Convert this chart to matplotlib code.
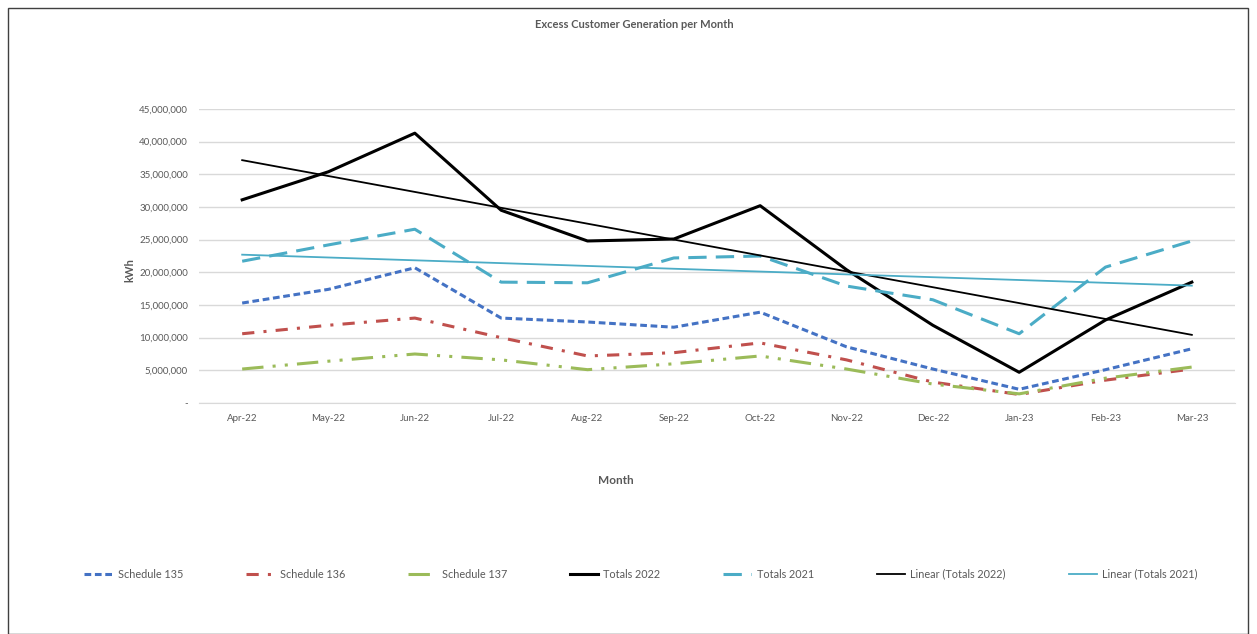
import numpy as np
import matplotlib
matplotlib.use("Agg")
from matplotlib import pyplot as plt
from matplotlib.ticker import FuncFormatter
from matplotlib.patches import Rectangle

months = ["Apr-22", "May-22", "Jun-22", "Jul-22", "Aug-22", "Sep-22",
          "Oct-22", "Nov-22", "Dec-22", "Jan-23", "Feb-23", "Mar-23"]
schedule_135 = [15.3, 17.4, 20.7, 13.0, 12.4, 11.6, 13.9, 8.6, 5.2, 2.1, 5.1, 8.3]
schedule_136 = [10.6, 11.9, 13.0, 10.0, 7.2, 7.7, 9.2, 6.6, 3.2, 1.3, 3.5, 5.2]
schedule_137 = [5.2, 6.4, 7.5, 6.6, 5.1, 6.0, 7.2, 5.2, 2.9, 1.4, 3.8, 5.5]
totals_2022 = [31.1, 35.4, 41.3, 29.5, 24.8, 25.1, 30.2, 20.4, 11.9, 4.7, 12.7, 18.5]
totals_2021 = [21.7, 24.2, 26.6, 18.5, 18.4, 22.2, 22.5, 17.9, 15.8, 10.6, 20.8, 24.8]


def main():
    plt.rcParams['font.family'] = ['Lato', 'DejaVu Sans']
    x = np.arange(len(months))
    scale = 1e6
    W, H = 1257, 634

    fig = plt.figure(figsize=(12.57, 6.34), dpi=100)
    ax = fig.add_axes([199 / W, 1 - 403 / H, (1235 - 199) / W, 294 / H])

    ax.plot(x, np.array(schedule_135) * scale, color="#4472C4", lw=2.2,
            dashes=(2.2, 1.2), label="Schedule 135")
    ax.plot(x, np.array(schedule_136) * scale, color="#C0504D", lw=2.2,
            dashes=(4, 3, 1, 3), label="Schedule 136")
    ax.plot(x, np.array(schedule_137) * scale, color="#9BBB59", lw=2.2,
            dashes=(7, 3, 1, 3, 1, 3), label="Schedule 137")
    ax.plot(x, np.array(totals_2022) * scale, color="black", lw=2.2,
            label="Totals 2022")
    ax.plot(x, np.array(totals_2021) * scale, color="#4BACC6", lw=2.2,
            dashes=(6, 3), label="Totals 2021")

    # linear trendlines like Excel
    p22 = np.polyfit(x, np.array(totals_2022) * scale, 1)
    p21 = np.polyfit(x, np.array(totals_2021) * scale, 1)
    ax.plot(x, np.polyval(p22, x), color="black", lw=1.3, label="Linear (Totals 2022)")
    ax.plot(x, np.polyval(p21, x), color="#4BACC6", lw=1.3, label="Linear (Totals 2021)")

    ax.set_xlim(-0.5, len(months) - 0.5)
    ax.set_ylim(0, 45e6)
    ax.set_yticks(np.arange(0, 45e6 + 1, 5e6))
    ax.yaxis.set_major_formatter(FuncFormatter(lambda v, p: "-" if v == 0 else f"{v:,.0f}"))
    ax.set_xticks(x)
    ax.set_xticklabels(months)
    ax.tick_params(axis="both", length=0, labelsize=7, colors="#595959", pad=8)
    ax.grid(axis="y", color="#D9D9D9", lw=1)
    ax.set_axisbelow(True)
    for s in ["top", "right", "left"]:
        ax.spines[s].set_visible(False)
    ax.spines["bottom"].set_color("#D9D9D9")

    fig.text(130 / W, 1 - 270 / H, "kWh", rotation=90, ha="center", va="center",
             fontsize=8, fontweight="bold", color="#595959")
    fig.text(616 / W, 1 - 480 / H, "Month", ha="center", va="center",
             fontsize=8.5, fontweight="bold", color="#595959")
    fig.text(634 / W, 1 - 25 / H, "Excess Customer Generation per Month", ha="center",
             va="center", fontsize=8, fontweight="bold", color="#595959")

    fig.legend(loc="center", bbox_to_anchor=(641 / W, 1 - 574 / H), ncol=7, frameon=False,
               fontsize=7.8, handlelength=2.6, columnspacing=5.8, handletextpad=0.5,
               labelcolor="#595959")

    fig.patches.append(Rectangle((8 / W, 0), 1240 / W, 1 - 8 / H, transform=fig.transFigure,
                                 fill=False, edgecolor="#404040", lw=1))
    fig.savefig("out.png", dpi=100)


if __name__ == '__main__':
    main()
